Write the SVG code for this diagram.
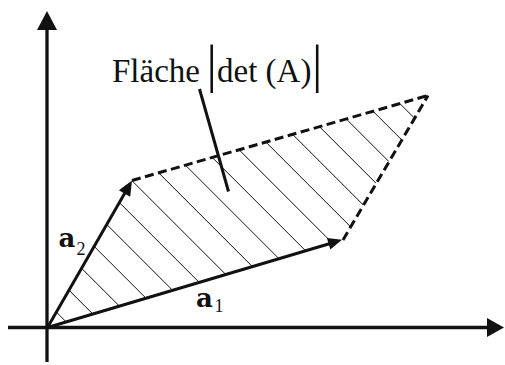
<svg xmlns="http://www.w3.org/2000/svg" width="505" height="365" viewBox="0 0 505 365">
  <style>
    .ax { stroke: #111; stroke-width: 3.3; fill: none; }
    .vec { stroke: #111; stroke-width: 3; fill: none; stroke-linecap: butt; }
    .dash { stroke: #111; stroke-width: 3; fill: none; stroke-dasharray: 9 4.5; }
    .hatch { stroke: #111; stroke-width: 1; }
    .head { fill: #111; stroke: none; }
    .lbl { font-family: "Liberation Serif", "Times New Roman", serif; fill: #111; }
    .bold { font-family: "DejaVu Serif", "Liberation Serif", serif; font-weight: bold; fill: #111; }
  </style>
  <defs>
    <clipPath id="par">
      <polygon points="47.5,327.5 342,239.8 428,95.5 132,180.5"/>
    </clipPath>
  </defs>
  <rect width="505" height="365" fill="#fff"/>

  <g id="hatching" clip-path="url(#par)">
    <line class="hatch" x1="0" y1="255.7" x2="500" y2="755.7"/>
    <line class="hatch" x1="0" y1="221.2" x2="500" y2="721.2"/>
    <line class="hatch" x1="0" y1="186.7" x2="500" y2="686.7"/>
    <line class="hatch" x1="0" y1="152.2" x2="500" y2="652.2"/>
    <line class="hatch" x1="0" y1="117.7" x2="500" y2="617.7"/>
    <line class="hatch" x1="0" y1="83.2" x2="500" y2="583.2"/>
    <line class="hatch" x1="0" y1="48.7" x2="500" y2="548.7"/>
    <line class="hatch" x1="0" y1="14.2" x2="500" y2="514.2"/>
    <line class="hatch" x1="0" y1="-20.3" x2="500" y2="479.7"/>
    <line class="hatch" x1="0" y1="-54.8" x2="500" y2="445.2"/>
    <line class="hatch" x1="0" y1="-89.3" x2="500" y2="410.7"/>
    <line class="hatch" x1="0" y1="-123.8" x2="500" y2="376.2"/>
    <line class="hatch" x1="0" y1="-158.3" x2="500" y2="341.7"/>
    <line class="hatch" x1="0" y1="-192.8" x2="500" y2="307.2"/>
    <line class="hatch" x1="0" y1="-227.3" x2="500" y2="272.7"/>
    <line class="hatch" x1="0" y1="-261.8" x2="500" y2="238.2"/>
    <line class="hatch" x1="0" y1="-296.3" x2="500" y2="203.7"/>
    <line class="hatch" x1="0" y1="-330.8" x2="500" y2="169.2"/>
  </g>

  <g id="axes">
    <line class="ax" x1="8" y1="327.5" x2="489" y2="327.5"/>
    <polygon class="head" points="504,327.5 487,318 487,337"/>
    <line class="ax" x1="47" y1="362" x2="47" y2="28"/>
    <polygon class="head" points="47,11 37,30 57,30"/>
  </g>

  <g id="connectors">
    <g id="edge-top">
      <line class="dash" x1="132" y1="180.5" x2="428" y2="95.5"/>
    </g>
    <g id="edge-right">
      <line class="dash" x1="343" y1="240" x2="428" y2="95.5"/>
    </g>
    <g id="vector-a1">
      <line class="vec" x1="47.5" y1="327.5" x2="331" y2="243.2"/>
      <polygon class="head" points="342,239.8 330.3,249.5 326.9,238"/>
    </g>
    <g id="vector-a2">
      <line class="vec" x1="47.5" y1="327.5" x2="126" y2="191"/>
      <polygon class="head" points="132,180.5 130.2,196.7 118.9,190.3"/>
    </g>
    <g id="pointer">
      <line class="vec" x1="199.5" y1="89" x2="228.5" y2="191.5"/>
    </g>
  </g>

  <g id="label-area">
    <text class="lbl" y="81.5" font-size="33"><tspan x="112">Fläche</tspan><tspan x="206.5" font-size="52">|</tspan><tspan x="217">det (A)</tspan><tspan x="312" font-size="52">|</tspan></text>
  </g>
  <g id="label-a1">
    <text class="bold" x="196" y="306.7" font-size="26">a<tspan class="lbl" font-weight="normal" x="214.5" y="311.7" font-size="18">1</tspan></text>
  </g>
  <g id="label-a2">
    <text class="bold" x="58.5" y="246.7" font-size="26">a<tspan class="lbl" font-weight="normal" x="76.5" y="255" font-size="18">2</tspan></text>
  </g>
</svg>
